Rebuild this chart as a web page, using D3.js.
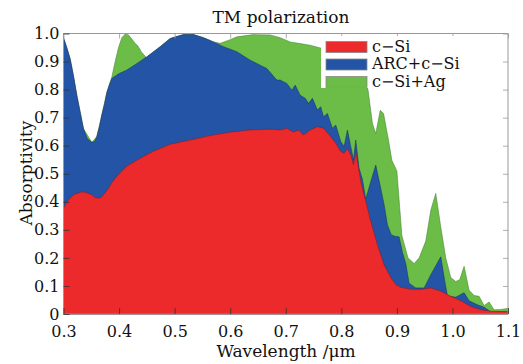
<!DOCTYPE html>
<html lang="en">
<head>
    <meta charset="UTF-8">
    <title>TM polarization</title>
    <style>
        body, html { margin: 0; padding: 0; background: #fff; }
        svg { display: block; }
        .tick text { font-family: "DejaVu Serif", serif; font-size: 16px; fill: #111; }
        .lbl { font-family: "DejaVu Serif", serif; fill: #111; }
    </style>
</head>
<body>
<svg width="523" height="364"></svg>
<script src="https://d3js.org/d3.v7.min.js"></script>
<script>
    // absorptivity spectra, [wavelength (um), absorptivity]
    const cSi = [
        [0.300, 0.377], [0.306, 0.400], [0.312, 0.413], [0.318, 0.425], [0.324, 0.430],
        [0.333, 0.435], [0.339, 0.434], [0.345, 0.430], [0.351, 0.425], [0.357, 0.415],
        [0.363, 0.413], [0.368, 0.416], [0.374, 0.430], [0.381, 0.448], [0.387, 0.468],
        [0.393, 0.484], [0.403, 0.505], [0.414, 0.527], [0.438, 0.555], [0.462, 0.580],
        [0.492, 0.605], [0.528, 0.620], [0.564, 0.636], [0.600, 0.648], [0.636, 0.656],
        [0.672, 0.659], [0.690, 0.656], [0.702, 0.662], [0.714, 0.648], [0.723, 0.656],
        [0.732, 0.638], [0.744, 0.656], [0.757, 0.668], [0.768, 0.662], [0.781, 0.632],
        [0.790, 0.609], [0.799, 0.579], [0.805, 0.573], [0.811, 0.590], [0.817, 0.567],
        [0.822, 0.531], [0.826, 0.579], [0.835, 0.472], [0.844, 0.401], [0.853, 0.330],
        [0.865, 0.247], [0.877, 0.175], [0.889, 0.130], [0.898, 0.105], [0.907, 0.095],
        [0.925, 0.088], [0.943, 0.088], [0.961, 0.093], [0.979, 0.081], [0.997, 0.063],
        [1.015, 0.047], [1.033, 0.027], [1.051, 0.015], [1.069, 0.010], [1.100, 0.008]
    ];
    const arcSi = [
        [0.300, 0.985], [0.306, 0.950], [0.312, 0.910], [0.318, 0.850], [0.324, 0.780],
        [0.330, 0.720], [0.336, 0.660], [0.343, 0.625], [0.351, 0.612], [0.356, 0.615],
        [0.360, 0.633], [0.365, 0.670], [0.369, 0.710], [0.374, 0.750], [0.378, 0.790],
        [0.383, 0.820], [0.387, 0.840], [0.400, 0.857], [0.414, 0.870], [0.432, 0.893],
        [0.450, 0.917], [0.474, 0.953], [0.492, 0.982], [0.505, 0.990], [0.516, 0.996],
        [0.534, 0.996], [0.552, 0.985], [0.570, 0.970], [0.588, 0.953], [0.612, 0.935],
        [0.636, 0.905], [0.648, 0.893], [0.666, 0.875], [0.684, 0.834], [0.690, 0.834],
        [0.702, 0.822], [0.711, 0.798], [0.717, 0.816], [0.726, 0.780], [0.735, 0.769],
        [0.741, 0.751], [0.748, 0.769], [0.757, 0.727], [0.763, 0.739], [0.768, 0.703],
        [0.775, 0.715], [0.784, 0.662], [0.790, 0.674], [0.799, 0.615], [0.805, 0.597],
        [0.811, 0.656], [0.817, 0.597], [0.822, 0.550], [0.826, 0.620], [0.832, 0.520],
        [0.838, 0.480], [0.844, 0.410], [0.853, 0.472], [0.862, 0.531], [0.871, 0.448],
        [0.877, 0.390], [0.883, 0.318], [0.890, 0.282], [0.898, 0.276], [0.904, 0.275],
        [0.910, 0.220], [0.916, 0.180], [0.922, 0.110], [0.934, 0.093], [0.949, 0.093],
        [0.961, 0.140], [0.979, 0.204], [0.986, 0.120], [0.991, 0.065], [1.006, 0.060],
        [1.021, 0.076], [1.030, 0.047], [1.045, 0.033], [1.057, 0.024], [1.069, 0.008],
        [1.100, 0.008]
    ];
    const cSiAg = [
        [0.300, 0.985], [0.312, 0.910], [0.324, 0.780], [0.336, 0.660], [0.351, 0.612],
        [0.360, 0.633], [0.369, 0.710], [0.378, 0.790], [0.387, 0.845], [0.393, 0.900],
        [0.399, 0.950], [0.405, 0.985], [0.411, 0.998], [0.417, 0.995], [0.423, 0.980],
        [0.429, 0.965], [0.434, 0.955], [0.440, 0.935], [0.449, 0.914], [0.474, 0.953],
        [0.492, 0.982], [0.516, 0.996], [0.534, 0.996], [0.552, 0.985], [0.570, 0.970],
        [0.582, 0.965], [0.600, 0.978], [0.612, 0.988], [0.642, 0.996], [0.672, 0.995],
        [0.690, 0.985], [0.708, 0.970], [0.726, 0.964], [0.744, 0.958], [0.769, 0.945],
        [0.800, 0.920], [0.820, 0.890], [0.840, 0.850], [0.848, 0.800], [0.856, 0.680],
        [0.862, 0.643], [0.870, 0.726], [0.876, 0.715], [0.885, 0.619], [0.891, 0.548],
        [0.900, 0.510], [0.909, 0.280], [0.920, 0.200], [0.931, 0.180], [0.940, 0.200],
        [0.952, 0.260], [0.961, 0.370], [0.970, 0.430], [0.979, 0.310], [0.988, 0.200],
        [0.997, 0.130], [1.006, 0.116], [1.013, 0.122], [1.021, 0.170], [1.030, 0.085],
        [1.039, 0.066], [1.048, 0.063], [1.057, 0.030], [1.066, 0.043], [1.075, 0.015],
        [1.086, 0.016], [1.100, 0.020]
    ];
    const seriesNames = ["c\u2212Si", "ARC+c\u2212Si", "c\u2212Si+Ag"];
    const xTicks = [0.3, 0.4, 0.5, 0.6, 0.7, 0.8, 0.9, 1.0, 1.1];
    const yTicks = [0, 0.1, 0.2, 0.3, 0.4, 0.5, 0.6, 0.7, 0.8, 0.9, 1.0];

    const colors = ["#ec2a2b", "#2354a5", "#6cbd48"];
    const strokes = ["#8a1a1a", "#1a2f5e", "#3f7a2a"];

    const svg = d3.select("svg"),
        margin = { top: 33.5, right: 15, bottom: 50, left: 63.5 };
    const width = 523, height = 364;

    const x = d3.scaleLinear().domain([0.3, 1.1]).range([margin.left, width - margin.right]);
    const y = d3.scaleLinear().domain([0, 1]).range([height - margin.bottom, margin.top]);

    const area = d3.area()
        .x(d => x(d[0]))
        .y0(y(0))
        .y1(d => y(d[1]));

    // back to front: c-Si+Ag, ARC+c-Si, c-Si
    [[cSiAg, 2], [arcSi, 1], [cSi, 0]].forEach(([data, i]) => {
        svg.append("path")
            .datum(data)
            .attr("d", area)
            .attr("fill", colors[i])
            .attr("stroke", strokes[i])
            .attr("stroke-width", 0.5)
            .attr("stroke-linejoin", "round");
    });

    // frame
    svg.append("rect")
        .attr("x", x(0.3)).attr("y", y(1))
        .attr("width", x(1.1) - x(0.3)).attr("height", y(0) - y(1))
        .attr("fill", "none").attr("stroke", "#999").attr("stroke-width", 1);

    const fmtX = d3.format(".1f");
    const fmtY = d => d === 0 ? "0" : d3.format(".1f")(d);

    const gX = svg.append("g")
        .attr("transform", `translate(0,${y(0)})`)
        .call(d3.axisBottom(x).tickValues(xTicks).tickFormat(fmtX).tickSizeInner(-6).tickSizeOuter(0).tickPadding(12));
    const gY = svg.append("g")
        .attr("transform", `translate(${x(0.3)},0)`)
        .call(d3.axisLeft(y).tickValues(yTicks).tickFormat(fmtY).tickSizeInner(-6).tickSizeOuter(0).tickPadding(4));
    const gT = svg.append("g")
        .attr("transform", `translate(0,${y(1)})`)
        .call(d3.axisTop(x).tickValues(xTicks).tickFormat("").tickSizeInner(-5).tickSizeOuter(0));
    const gR = svg.append("g")
        .attr("transform", `translate(${x(1.1)},0)`)
        .call(d3.axisRight(y).tickValues(yTicks).tickFormat("").tickSizeInner(-5).tickSizeOuter(0));

    [gX, gY, gT, gR].forEach(g => {
        g.select(".domain").remove();
        g.selectAll(".tick line").attr("stroke", "#333").attr("stroke-width", 0.8);
    });
    gT.selectAll(".tick line").attr("stroke", "#999");
    gR.selectAll(".tick line").attr("stroke", "#999");

    // legend
    const lg = svg.append("g").attr("transform", "translate(321,36)");
    lg.append("rect").attr("x", 0).attr("y", 0).attr("width", 142).attr("height", 52)
        .attr("fill", "#fff");
    seriesNames.forEach((name, i) => {
        lg.append("rect")
            .attr("x", 5).attr("y", 5.5 + i * 17.5)
            .attr("width", 41).attr("height", 11)
            .attr("fill", colors[i]).attr("stroke", "#888").attr("stroke-width", 0.8);
        lg.append("text").attr("class", "lbl")
            .attr("x", 51).attr("y", 15.5 + i * 17.5)
            .style("font-size", "16px")
            .text(name);
    });

    // titles
    svg.append("text").attr("class", "lbl")
        .attr("x", 281).attr("y", 23).attr("text-anchor", "middle")
        .style("font-size", "17px").text("TM polarization");
    svg.append("text").attr("class", "lbl")
        .attr("x", 286).attr("y", 357).attr("text-anchor", "middle")
        .style("font-size", "17px").text("Wavelength /\u03bcm");
    svg.append("text").attr("class", "lbl")
        .attr("transform", "translate(32,173) rotate(-90)").attr("text-anchor", "middle")
        .style("font-size", "17px").text("Absorptivity");
</script>
</body>
</html>
